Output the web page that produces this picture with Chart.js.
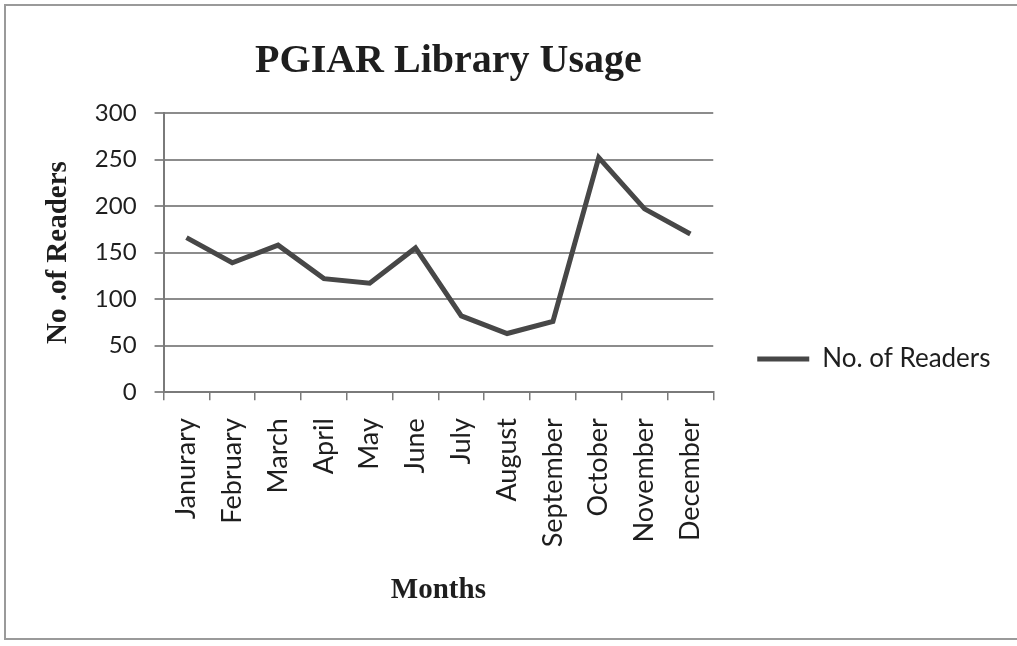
<!DOCTYPE html>
<html>
<head>
<meta charset="utf-8">
<title>PGIAR Library Usage</title>
<script src="https://cdn.jsdelivr.net/npm/chart.js@4/dist/chart.umd.min.js"></script>
<style>
    html, body { margin: 0; padding: 0; background: #fff; }
    #wrap { width: 1017px; height: 646px; position: relative; }
</style>
</head>
<body>
<div id="wrap"><canvas id="usage"></canvas></div>
<script>
// --- data ---
const months = ['Janurary', 'February', 'March', 'April', 'May', 'June',
    'July', 'August', 'September', 'October', 'November', 'December'];
const readers = [166, 139, 158, 122, 117, 155, 82, 63, 76, 252, 197, 170];
const yTicks = [0, 50, 100, 150, 200, 250, 300];

const COLORS = {
    line: '#474747',
    grid: '#8c8c8c',
    axis: '#7a7a7a',
    text: '#1e1e1e',
    frame: '#9a9a9a'
};

const SANS = "Lato, 'Open Sans', sans-serif";
const SERIF = "'Liberation Serif', 'DejaVu Serif', serif";

// white page + grey frame (its right side runs off the page)
const framePlugin = {
    id: 'frame',
    beforeDraw(chart) {
        const c = chart.ctx;
        c.save();
        c.fillStyle = '#fff';
        c.fillRect(0, 0, chart.width, chart.height);
        c.strokeStyle = COLORS.frame;
        c.lineWidth = 2;
        c.strokeRect(5, 5, 1030, 634);
        c.restore();
    }
};

// the legend box gets squeezed by the layout; give it room on the right,
// centre it lower, and nudge the title a little to the right like Excel does
const placePlugin = {
    id: 'place',
    afterLayout(chart) {
        const lg = chart.legend;
        if (lg) {
            lg.right = chart.width;
            lg.width = lg.right - lg.left;
            lg.top = 102;
            lg.height = lg.bottom - lg.top;
        }
        const tb = chart.titleBlock;
        if (tb) {
            tb.left += 10;
            tb.right += 10;
        }
    }
};

const ctx = document.getElementById('usage').getContext('2d');
new Chart(ctx, {
    type: 'line',
    data: {
        labels: months,
        datasets: [{
            label: 'No. of Readers',
            data: readers,
            borderColor: COLORS.line,
            backgroundColor: COLORS.line,
            borderWidth: 5,
            pointRadius: 0,
            tension: 0,
            fill: false
        }]
    },
    options: {
        responsive: true,
        maintainAspectRatio: false,
        animation: false,
        layout: { padding: { left: 18, right: 72, top: 10, bottom: 30 } },
        plugins: {
            title: {
                display: true,
                text: 'PGIAR Library Usage',
                fullSize: false,
                color: COLORS.text,
                font: { family: SERIF, size: 40, weight: 'bold' },
                padding: { top: 28, bottom: 27 }
            },
            legend: {
                position: 'right',
                labels: {
                    color: COLORS.text,
                    font: { family: SANS, size: 26 },
                    usePointStyle: true,
                    pointStyle: 'line',
                    pointStyleWidth: 52,
                    padding: 44
                }
            },
            tooltip: { enabled: false }
        },
        scales: {
            x: {
                offset: true,
                grid: {
                    display: true,
                    offset: true,
                    drawOnChartArea: false,
                    drawTicks: true,
                    tickLength: 8,
                    color: COLORS.axis,
                    lineWidth: 1.5
                },
                border: { color: COLORS.axis, width: 2 },
                ticks: {
                    color: COLORS.text,
                    font: { family: SANS, size: 27 },
                    minRotation: 90,
                    maxRotation: 90,
                    padding: 18,
                    autoSkip: false
                },
                title: {
                    display: true,
                    text: 'Months',
                    color: COLORS.text,
                    font: { family: SERIF, size: 29, weight: 'bold' },
                    padding: { top: 8, bottom: 8 }
                }
            },
            y: {
                min: 0,
                max: 300,
                afterBuildTicks: scale => { scale.ticks = yTicks.map(v => ({ value: v })); },
                grid: {
                    color: COLORS.grid,
                    lineWidth: 2,
                    tickLength: 9
                },
                border: { color: COLORS.axis, width: 2 },
                ticks: {
                    color: COLORS.text,
                    font: { family: SANS, size: 24 },
                    padding: 18
                },
                title: {
                    display: true,
                    text: 'No .of Readers',
                    color: COLORS.text,
                    font: { family: SERIF, size: 29, weight: 'bold' },
                    padding: { top: 23, bottom: 1 }
                }
            }
        }
    },
    plugins: [framePlugin, placePlugin]
});
</script>
</body>
</html>
